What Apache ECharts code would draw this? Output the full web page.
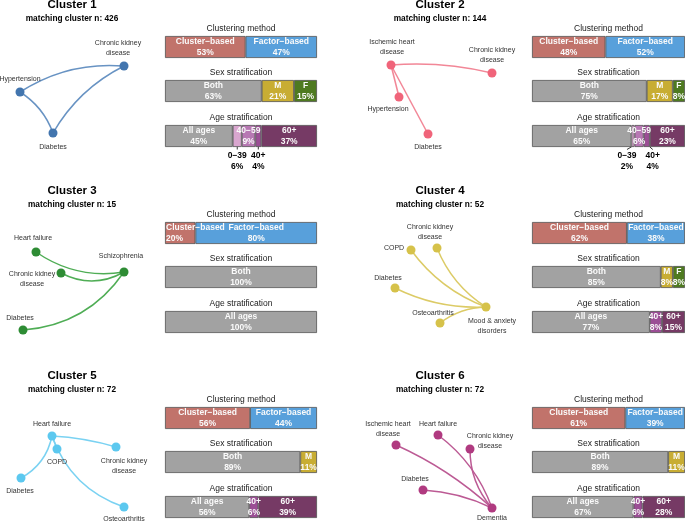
<!DOCTYPE html>
<html><head><meta charset="utf-8">
<script src="https://cdn.jsdelivr.net/npm/echarts@6/dist/echarts.min.js"></script>
<style>html,body{margin:0;padding:0;background:#fff}#c{width:685px;height:522px}</style>
</head><body><div id="c"></div>
<script>
// ---------------- DATA ----------------
const clusterNames = ['Cluster 1', 'Cluster 2', 'Cluster 3', 'Cluster 4', 'Cluster 5', 'Cluster 6'];
const matchingN = [426, 144, 15, 52, 72, 72];

const methodCats = ['Cluster\u2212based', 'Factor\u2212based'];
const methodValues = [[53, 47], [48, 52], [20, 80], [62, 38], [56, 44], [61, 39]];

const sexCats = ['Both', 'M', 'F'];
const sexValues = [[63, 21, 15], [75, 17, 8], [100, 0, 0], [85, 8, 8], [89, 11, 0], [89, 11, 0]];

const ageCats = ['All ages', '0\u221239', '40\u221259', '40+', '60+'];
const ageValues = [
  [45, 6, 9, 4, 37],
  [65, 2, 6, 4, 23],
  [100, 0, 0, 0, 0],
  [77, 0, 0, 8, 15],
  [56, 0, 0, 6, 39],
  [67, 0, 0, 6, 28]
];

// network nodes (layout coordinates), edges
const netNodes = [
  ['Hypertension', 'Chronic kidney\ndisease', 'Diabetes'],
  ['Ischemic heart\ndisease', 'Chronic kidney\ndisease', 'Hypertension', 'Diabetes'],
  ['Heart failure', 'Chronic kidney\ndisease', 'Schizophrenia', 'Diabetes'],
  ['COPD', 'Chronic kidney\ndisease', 'Diabetes', 'Osteoarthritis', 'Mood & anxiety\ndisorders'],
  ['Heart failure', 'COPD', 'Chronic kidney\ndisease', 'Diabetes', 'Osteoarthritis'],
  ['Ischemic heart\ndisease', 'Heart failure', 'Chronic kidney\ndisease', 'Diabetes', 'Dementia']
];
const netX = [
  [20, 124, 53],
  [391, 492, 399, 428],
  [36, 61, 124, 23],
  [411, 437, 395, 440, 486],
  [52, 57, 116, 21, 124],
  [396, 438, 470, 423, 492]
];
const netY = [
  [92, 66, 133],
  [65, 73, 97, 134],
  [252, 273, 272, 330],
  [250, 248, 288, 323, 307],
  [436, 449, 447, 478, 507],
  [445, 435, 449, 490, 508]
];
const netEdges = [
  [[0, 1], [0, 2], [2, 1]],
  [[0, 1], [0, 2], [0, 3]],
  [[0, 2], [1, 2], [3, 2]],
  [[0, 4], [1, 4], [2, 4], [3, 4]],
  [[0, 1], [0, 2], [0, 3], [0, 4]],
  [[0, 4], [1, 4], [2, 4], [3, 4]]
];

// ---------------- STYLE / LAYOUT ----------------
const FONT = '"Liberation Sans", Arial, Helvetica, sans-serif';
const edgeCurve = [
  [0.17, 0.17, 0.15],
  [0.08, 0, 0],
  [-0.2, -0.27, -0.24],
  [-0.15, -0.16, -0.13, 0.16],
  [0, 0.06, 0.23, -0.24],
  [0.08, 0.15, -0.19, 0.1]
];
const labelOffsets = [
  [[0, -13], [-6, -18], [0, 14]],
  [[1, -18], [0, -18], [-11, 12], [0, 13]],
  [[-3, -14], [-29, 6.5], [-3, -16], [-3, -12]],
  [[-17, -2], [-7, -16], [-7, -10], [-7, -10], [6, 19.5]],
  [[0, -12], [0, 13], [8, 19], [-1, 13], [0, 12]],
  [[-8, -16], [0, -11], [20, -7.5], [-8, -11], [0, 10]]
];
const netColors = ['#4275AE', '#F0647A', '#2E8C34', '#D6C24A', '#5CC8EF', '#B03A80'];
const edgeColors = ['#6893C3', '#F28797', '#4FAD55', '#DCCB66', '#7AD2F2', '#BC5A94'];

const methodColors = ['#C1736B', '#58A0DB'];
const sexColors = ['#A2A2A2', '#C8AD33', '#4E7A20'];
const ageColors = ['#A2A2A2', '#D9A6CF', '#B778B3', '#9B4E95', '#763A65'];

const titleX = [72, 440];
const barLeft = [165, 532];
const barW = [152, 153];
const rowTop = [0, 186, 371];
const secTop = [36, 80, 125];
const barH = 22;
const outsideLabels = { 0: ['0\u221239', '40+'], 1: ['0\u221239', '40+'] };
const outsideNudge = { 0: { '0\u221239': 0, '40+': 0 }, 1: { '0\u221239': -6, '40+': 6 } };
const leftLabels = { 2: ['Cluster\u2212based'] };

const sections = [
  { title: 'Clustering method', cats: methodCats, values: methodValues, colors: methodColors },
  { title: 'Sex stratification', cats: sexCats, values: sexValues, colors: sexColors },
  { title: 'Age stratification', cats: ageCats, values: ageValues, colors: ageColors }
];

// ---------------- BUILD ----------------
const grids = [{ left: 0, top: 0, width: 685, height: 522 }];
const xAxes = [{ type: 'value', gridIndex: 0, min: 0, max: 685, show: false }];
const yAxes = [{ type: 'value', gridIndex: 0, min: 0, max: 522, inverse: true, show: false }];
const series = [];
const graphics = [];

for (let c = 0; c < 6; c++) {
  const col = c % 2, row = Math.floor(c / 2);
  const rt = rowTop[row];
  graphics.push({ type: 'text', x: titleX[col], y: rt + 5,
    style: { text: clusterNames[c], font: 'bold 11.5px ' + FONT, fill: '#000', align: 'center', verticalAlign: 'middle' } });
  graphics.push({ type: 'text', x: titleX[col], y: rt + 19,
    style: { text: 'matching cluster n: ' + matchingN[c], font: 'bold 8.3px ' + FONT, fill: '#000', align: 'center', verticalAlign: 'middle' } });

  sections.forEach((sec, s) => {
    const gi = grids.length;
    const top = rt + secTop[s];
    grids.push({ left: barLeft[col], top: top, width: barW[col], height: barH });
    graphics.push({ type: 'text', x: barLeft[col] + barW[col] / 2, y: top - 7.5,
      style: { text: sec.title, font: '8.5px ' + FONT, fill: '#1a1a1a', align: 'center', verticalAlign: 'middle' } });
    const vals = sec.values[c];
    const total = vals.reduce((a, b) => a + b, 0);
    xAxes.push({ type: 'value', gridIndex: gi, min: 0, max: total, show: false });
    yAxes.push({ type: 'category', gridIndex: gi, data: [sec.title], show: false });
    sec.cats.forEach((cat, k) => {
      if (!vals[k]) return;
      const isOut = s === 2 && outsideLabels[c] && outsideLabels[c].indexOf(cat) >= 0;
      const isLeft = s === 0 && leftLabels[c] && leftLabels[c].indexOf(cat) >= 0;
      const ser = {
        type: 'bar', name: cat, xAxisIndex: gi, yAxisIndex: gi, stack: 'st' + gi,
        barWidth: '100%', data: [vals[k]], silent: true, animation: false,
        itemStyle: { color: sec.colors[k], borderColor: '#505050', borderWidth: 0.8 },
        label: {
          show: true, position: isLeft ? 'insideLeft' : 'inside', distance: 1,
          formatter: '{a}\n{c}%', color: isOut ? '#000' : '#fafafa',
          fontFamily: FONT, fontWeight: 'bold', fontSize: 8.5, lineHeight: 11.5
        }
      };
      if (isOut) {
        const nudge = outsideNudge[c][cat];
        ser.labelLayout = function (p) {
          return { x: p.rect.x + p.rect.width / 2 + nudge, y: p.rect.y + p.rect.height + 2.5, align: 'center', verticalAlign: 'top' };
        };
        ser.labelLine = { show: true, lineStyle: { color: '#000', width: 0.8 } };
      }
      series.push(ser);
    });
  });

  // network
  const nodes = netNodes[c].map((n, i) => ({
    name: n, value: [netX[c][i], netY[c][i]],
    label: { offset: labelOffsets[c][i] }
  }));
  const links = netEdges[c].map((e, i) => ({ source: e[0], target: e[1], lineStyle: { curveness: edgeCurve[c][i] } }));
  series.push({
    type: 'graph', coordinateSystem: 'cartesian2d', xAxisIndex: 0, yAxisIndex: 0,
    symbolSize: 9, data: nodes, links: links, silent: true, animation: false,
    itemStyle: { color: netColors[c] },
    lineStyle: { color: edgeColors[c], width: 1.5, opacity: 1 },
    label: { show: true, position: 'inside', color: '#333', fontFamily: FONT, fontSize: 7, lineHeight: 10, align: 'center', verticalAlign: 'middle' },
    emphasis: { disabled: true }
  });
}

const chart = echarts.init(document.getElementById('c'), null, { renderer: 'canvas' });
chart.setOption({
  animation: false,
  backgroundColor: '#fff',
  grid: grids, xAxis: xAxes, yAxis: yAxes,
  series: series,
  graphic: graphics
});
</script></body></html>
